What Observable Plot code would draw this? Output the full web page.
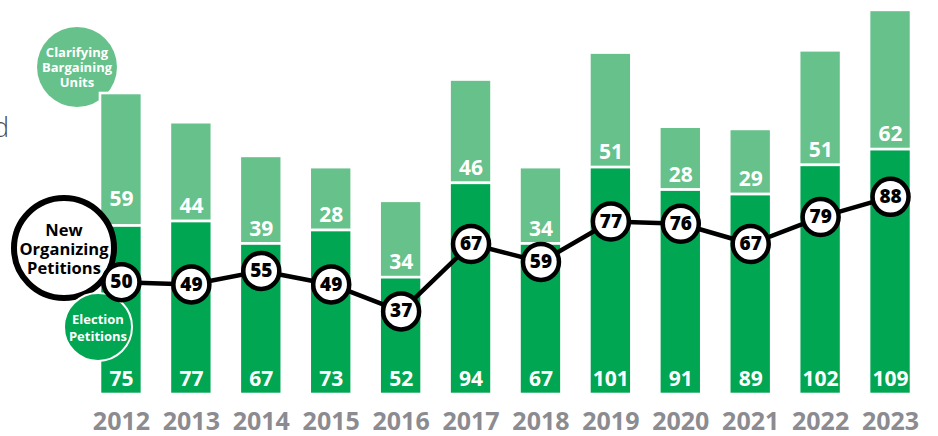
<!DOCTYPE html>
<html><head><meta charset="utf-8">
<script src="https://cdn.jsdelivr.net/npm/d3@7"></script>
<script src="https://cdn.jsdelivr.net/npm/@observablehq/plot@0.6"></script>
<style>html,body{margin:0;padding:0;background:#fff;} #chart{width:938px;height:436px;overflow:hidden}</style>
</head><body><div id="chart"></div>
<script>
const years = ["2012","2013","2014","2015","2016","2017","2018","2019","2020","2021","2022","2023"];
const electionPetitions = [75,77,67,73,52,94,67,101,91,89,102,109];
const clarifyingUnits = [59,44,39,28,34,46,34,51,28,29,51,62];
const newOrganizing = [50,49,55,49,37,67,59,77,76,67,79,88];
const legendNew = ["New","Organizing","Petitions"];
const legendClarifying = ["Clarifying","Bargaining","Units"];
const legendElection = ["Election","Petitions"];
const cutText = "d";

const rows = years.map((year, i) => ({
  year,
  election: electionPetitions[i],
  clarifying: clarifyingUnits[i],
  total: electionPetitions[i] + clarifyingUnits[i],
  newOrg: newOrganizing[i]
}));

const DARK = "#00a651", LIGHT = "#67c18b";
const FONT = "'Open Sans', 'Noto Sans', sans-serif";

function circleLabel(cx, cy, r, fill, stroke, sw, lines, color, size, lh, weight) {
  return () => {
    const g = d3.create("svg:g");
    g.append("circle").attr("cx", cx).attr("cy", cy).attr("r", r)
      .attr("fill", fill).attr("stroke", stroke).attr("stroke-width", sw);
    lines.forEach((t, k) => {
      g.append("text").attr("x", cx).attr("y", cy + (k - (lines.length - 1) / 2) * lh)
        .attr("text-anchor", "middle").attr("dominant-baseline", "central")
        .attr("font-family", FONT).attr("font-size", size).attr("font-weight", weight)
        .attr("fill", color).text(t);
    });
    return g.node();
  };
}

const cutMark = () => {
  const g = d3.create("svg:g");
  g.append("text").attr("x", 1).attr("y", 137).attr("font-family", FONT)
    .attr("font-size", 27).attr("font-weight", 300).attr("fill", "#4a4a4a").text(cutText);
  return g.node();
};

const chart = Plot.plot({
  width: 938,
  height: 436,
  marginLeft: 86,
  marginRight: 13,
  marginTop: 0,
  marginBottom: 42,
  style: {fontFamily: FONT, background: "white"},
  x: {type: "band", domain: years, paddingInner: 0.40, paddingOuter: 0.2, round: false},
  y: {domain: [0, 175.4], axis: null},
  marks: [
    circleLabel(77, 67, 40, LIGHT, "none", 0, legendClarifying, "white", 13, 15, 700),
    Plot.barY(rows, {x: "year", y1: "election", y2: "total", fill: LIGHT, stroke: "white", strokeWidth: 2.6}),
    Plot.barY(rows, {x: "year", y1: 0, y2: "election", fill: DARK, stroke: "white", strokeWidth: 2.6}),
    Plot.text(rows.slice(0, 1), {x: "year", y: "election", text: "clarifying", dy: -27, fill: "white", fontSize: 21, fontWeight: 700}),
    Plot.text(rows.slice(1), {x: "year", y: "election", text: "clarifying", dy: -15, fill: "white", fontSize: 21, fontWeight: 700}),
    Plot.text(rows, {x: "year", y: 0, text: "election", dy: -15, fill: "white", fontSize: 21, fontWeight: 700}),
    circleLabel(64, 248, 50, "white", "black", 6, legendNew, "black", 16.5, 19, 700),
    circleLabel(98, 327, 34, DARK, "white", 2, legendElection, "white", 13, 17, 700),
    Plot.line(rows, {x: "year", y: "newOrg", stroke: "black", strokeWidth: 4.5}),
    Plot.dot(rows, {x: "year", y: "newOrg", r: 18, fill: "white", stroke: "black", strokeWidth: 4.5}),
    Plot.text(rows, {x: "year", y: "newOrg", text: "newOrg", fill: "black", fontSize: 19, fontWeight: 800}),
    cutMark,
    Plot.axisX({tickSize: 0, tickPadding: 18, fontSize: 25, fontWeight: 700, fill: "#8b8b90", label: null})
  ]
});
document.getElementById("chart").appendChild(chart);
</script>
</body></html>
